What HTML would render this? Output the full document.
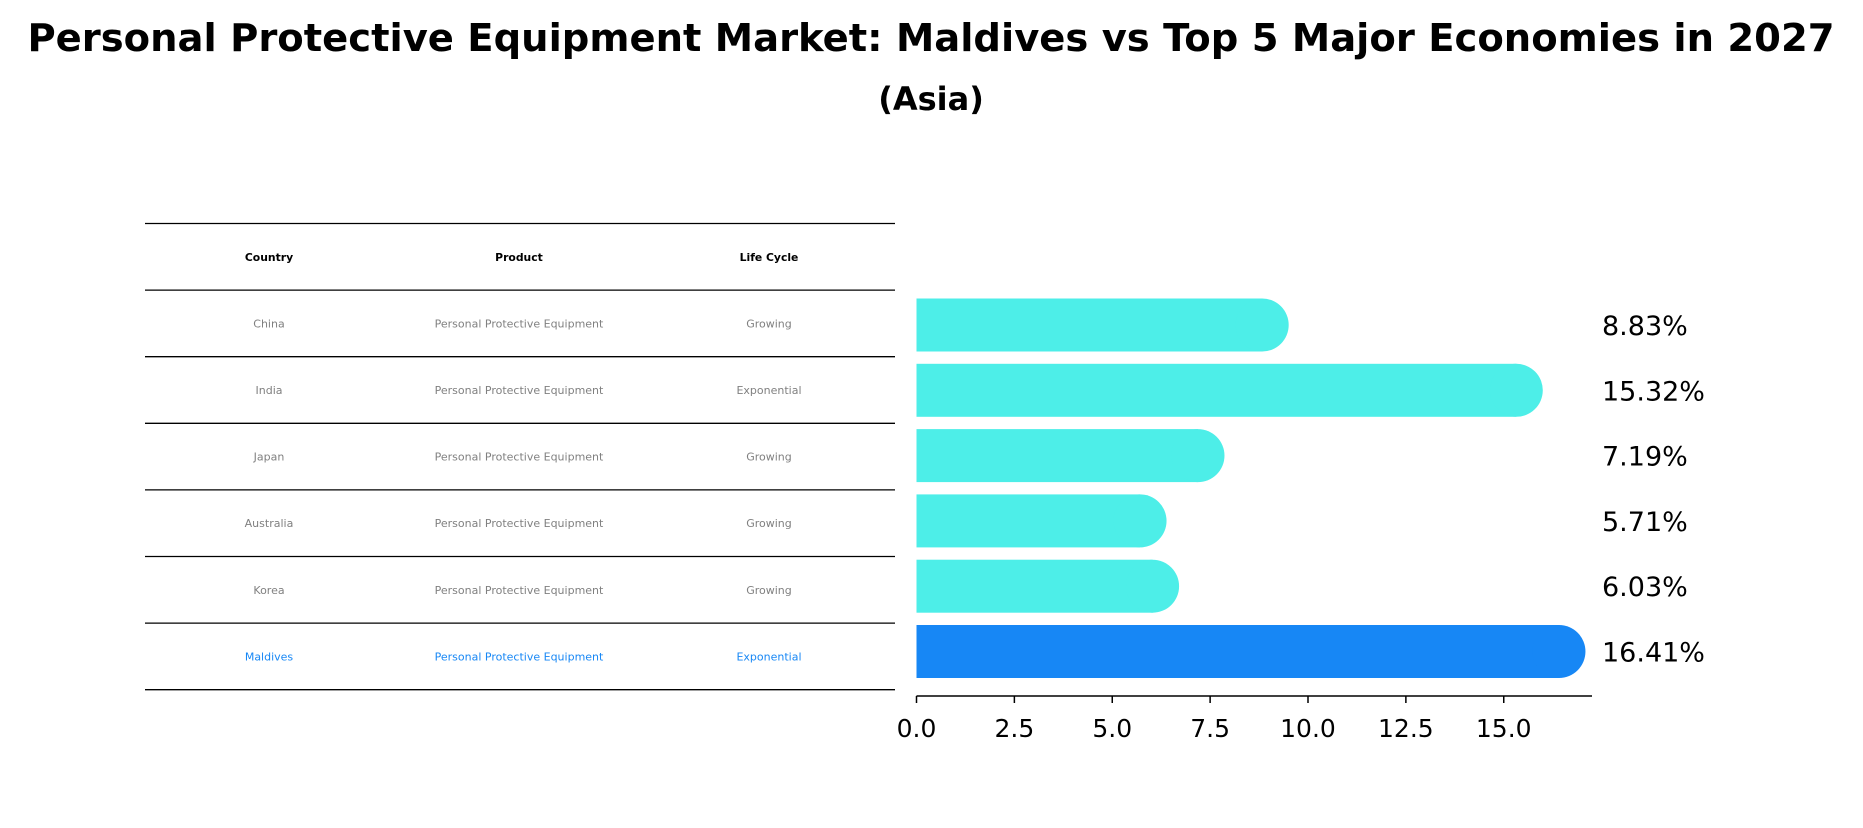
<!DOCTYPE html>
<html><head><meta charset="utf-8"><style>
body{margin:0;background:#fff;}
svg text{font-family:"DejaVu Sans","Liberation Sans",sans-serif;}
</style></head><body>
<svg id="chart" width="1863" height="823" viewBox="0 0 1863 823" xmlns="http://www.w3.org/2000/svg">
<text x="931" y="51" text-anchor="middle" font-size="38.5" font-weight="bold">Personal Protective Equipment Market: Maldives vs Top 5 Major Economies in 2027</text>
<text x="931" y="110" text-anchor="middle" font-size="32" font-weight="bold">(Asia)</text>
<g id="table"></g>
<g id="bars"></g>
</svg>
<script>
const countries = ["China","India","Japan","Australia","Korea","Maldives"];
const products = ["Personal Protective Equipment","Personal Protective Equipment","Personal Protective Equipment","Personal Protective Equipment","Personal Protective Equipment","Personal Protective Equipment"];
const lifeCycles = ["Growing","Exponential","Growing","Growing","Growing","Exponential"];
const values = [8.83,15.32,7.19,5.71,6.03,16.41];
const valueLabels = ["8.83%","15.32%","7.19%","5.71%","6.03%","16.41%"];
const ticks = [0,2.5,5,7.5,10,12.5,15];
const tickLabels = ["0.0","2.5","5.0","7.5","10.0","12.5","15.0"];

const NS="http://www.w3.org/2000/svg";
function mk(tag,attrs,parent){const e=document.createElementNS(NS,tag);for(const k in attrs)e.setAttribute(k,attrs[k]);parent.appendChild(e);return e;}
const table=document.getElementById('table');
const bars=document.getElementById('bars');
const x0=916.5, unit=39.15;
function xs(v){return x0+v*unit;}
const rowTop=223.5, rowH=66.6;
function ys(i){return 325+i*65.3;}

for(let i=0;i<=countries.length+1;i++){
  const y=rowTop+i*rowH;
  const l=mk('line',{x1:145,x2:895,y1:y,y2:y,stroke:'#000','stroke-width':1.3},table);
  
  
}
const colX=[269,519,769];
const heads=["Country","Product","Life Cycle"];
heads.forEach((h,j)=>{
  const t=mk('text',{x:colX[j],y:rowTop+rowH/2+4,'text-anchor':'middle','font-size':10.8,'font-weight':'bold'},table);
  t.textContent=h;
  
  
});
countries.forEach((c,i)=>{
  const y=rowTop+(i+1)*rowH+rowH/2+4;
  const col=c==="Maldives"?'#1787f5':'#808080';
  [c,products[i],lifeCycles[i]].forEach((s,j)=>{
    const t=mk('text',{x:colX[j],y:y,'text-anchor':'middle','font-size':11,fill:col},table);
    t.textContent=s;
    
    
  });
});

const bh=53;
values.forEach((v,i)=>{
  const y=ys(i);
  const col=countries[i]==="Maldives"?'#1787f5':'#4deee8';
  const r=mk('rect',{x:x0,y:y-bh/2,width:xs(v)-x0,height:bh,fill:col},bars);
  
  
  const c=mk('circle',{cx:xs(v),cy:y,r:bh/2,fill:col},bars);
  
  
  const t=mk('text',{x:1602,y:y+10,'font-size':27},bars);
  t.textContent=valueLabels[i];
  
  
});
const ax=mk('line',{x1:x0,x2:1592,y1:696,y2:696,stroke:'#000','stroke-width':1.5},bars);


ticks.forEach((t,i)=>{
  const x=xs(t);
  const tk=mk('line',{x1:x,x2:x,y1:696,y2:703,stroke:'#000','stroke-width':1.5},bars);
  
  
  const tl=mk('text',{x:x,y:737,'text-anchor':'middle','font-size':25},bars);
  tl.textContent=tickLabels[i];
  
  
});
</script>
</body></html>
